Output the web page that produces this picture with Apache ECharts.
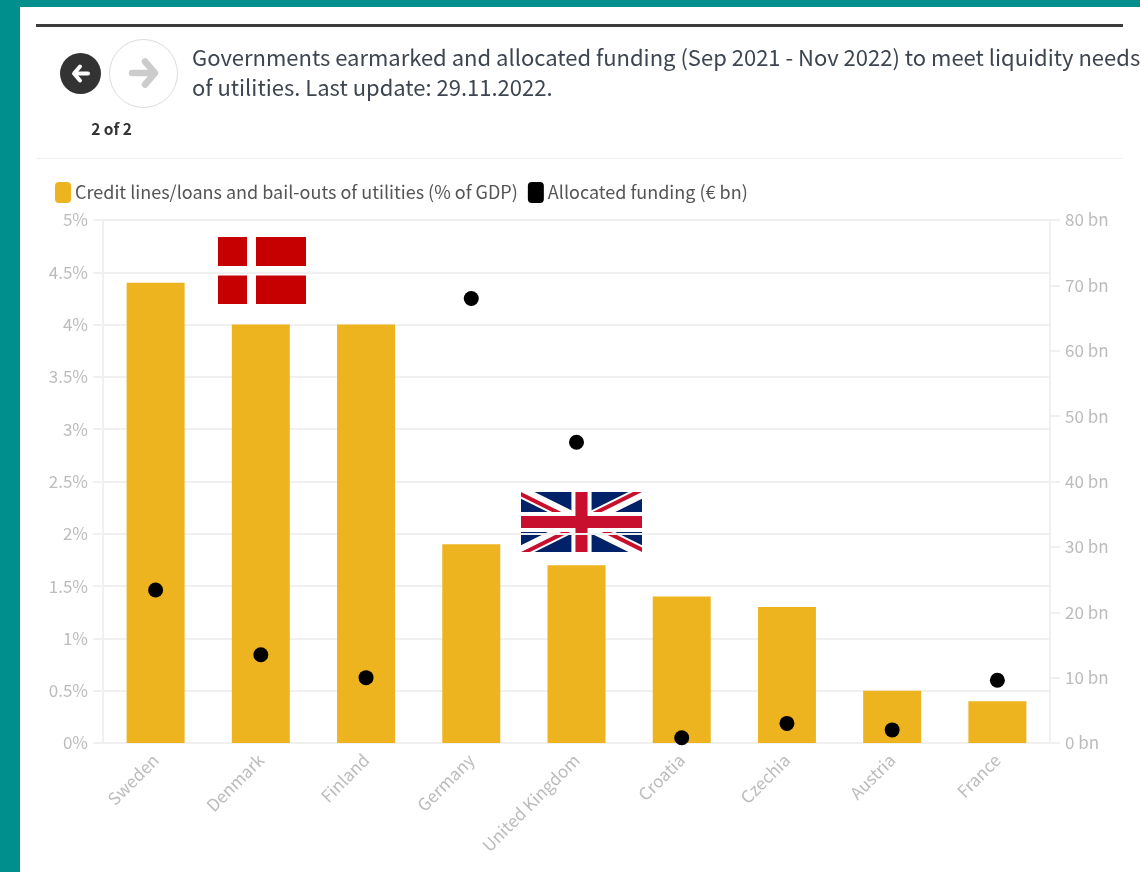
<!DOCTYPE html>
<html>
<head>
<meta charset="utf-8">
<style>
html,body{margin:0;padding:0;background:#fff}
#chart{width:1140px;height:872px}
</style>
<script src="https://cdn.jsdelivr.net/npm/echarts@6/dist/echarts.min.js"></script>
</head>
<body>
<div id="chart"></div>
<script>
const countries = ['Sweden','Denmark','Finland','Germany','United Kingdom','Croatia','Czechia','Austria','France'];
const creditShare = [4.4,4,4,1.9,1.7,1.4,1.3,0.5,0.4];
const allocatedBn = [23.4,13.5,10,68,46,0.8,3,2,9.6];
const shareSeriesName = 'Credit lines/loans and bail-outs of utilities (% of GDP)';
const fundingSeriesName = 'Allocated funding (€ bn)';
const headline = 'Governments earmarked and allocated funding (Sep 2021 - Nov 2022) to meet liquidity needs\nof utilities. Last update: 29.11.2022.';
const pager = '2 of 2';

const FONT = '"Noto Sans CJK SC","Noto Sans",sans-serif';
const GRID = '#f0f0f0';
const LABEL = '#bcbcbc';

// Flags are drawn as plain shapes in their own unit space, then scaled to size.
function flag(x, y, w, h, uw, uh, shapes) {
  return {
    type: 'group', x, y, z: 20, silent: true,
    children: shapes.map(s => ({
      type: 'polygon',
      shape: { points: s.p.map(q => [q[0] * w / uw, q[1] * h / uh]) },
      style: { fill: s.c }
    }))
  };
}
const box = (x0, y0, x1, y1) => [[x0,y0],[x1,y0],[x1,y1],[x0,y1]];

const denmark = flag(218, 237, 88, 67, 88, 67, [
  { c:'#c60000', p: box(0,0,88,67) },
  { c:'#ffffff', p: box(29,0,38,67) },
  { c:'#ffffff', p: box(0,29,88,38.5) }
]);

const BLUE = '#012169', RED = '#c8102e', W = '#ffffff';
const britain = flag(521, 492, 121, 60, 60, 30, [
  { c:BLUE, p: box(0,0,60,30) },
  { c:W, p: [[0,0],[6.7,0],[60,26.65],[60,30],[53.3,30],[0,3.35]] },
  { c:W, p: [[60,0],[60,3.35],[6.7,30],[0,30],[0,26.65],[53.3,0]] },
  { c:RED, p: [[0,0],[30,15],[30,17.24],[0,2.24]] },
  { c:RED, p: [[60,0],[30,15],[25.53,15],[55.53,0]] },
  { c:RED, p: [[0,30],[30,15],[34.47,15],[4.47,30]] },
  { c:RED, p: [[60,30],[30,15],[30,12.76],[60,27.76]] },
  { c:W, p: box(25,0,35,30) },
  { c:W, p: box(0,10,60,20) },
  { c:RED, p: box(27,0,33,30) },
  { c:RED, p: box(0,12,60,18) }
]);

const frame = [
  { type:'rect', z:0, shape:{x:0,y:0,width:1140,height:7}, style:{fill:'#008f8c'} },
  { type:'rect', z:0, shape:{x:0,y:0,width:20,height:872}, style:{fill:'#008f8c'} },
  { type:'rect', z:0, shape:{x:36,y:24,width:1087,height:3}, style:{fill:'#3c3c3c'} },
  { type:'rect', z:0, shape:{x:36,y:158,width:1087,height:1}, style:{fill:'#f1f1f1'} }
];

const navigation = [
  { type:'circle', shape:{cx:80.5,cy:73.5,r:20.5}, style:{fill:'#333333'} },
  { type:'polyline', shape:{points:[[80,66.5],[74,73.5],[80,80.5]]},
    style:{stroke:'#fff',lineWidth:4,fill:null,lineCap:'round',lineJoin:'round'} },
  { type:'line', shape:{x1:75,y1:73.5,x2:88,y2:73.5},
    style:{stroke:'#fff',lineWidth:4,lineCap:'round'} },
  { type:'circle', shape:{cx:143.5,cy:73.5,r:34}, style:{fill:'#fff',stroke:'#dcdcdc',lineWidth:1} },
  { type:'polyline', shape:{points:[[145,61.5],[155,73],[145,84.5]]},
    style:{stroke:'#cccccc',lineWidth:6.5,fill:null,lineCap:'round',lineJoin:'round'} },
  { type:'line', shape:{x1:132,y1:73,x2:153,y2:73},
    style:{stroke:'#cccccc',lineWidth:6.5,lineCap:'round'} },
  { type:'text', x:111.5, y:129, style:{text:pager,fill:'#333',font:'700 15.5px '+FONT,align:'center',verticalAlign:'middle'} }
];

const heading = {
  type:'text', x:192, y:43,
  style:{text:headline,fill:'#3d4650',font:'22px '+FONT,lineHeight:29.5,align:'left',verticalAlign:'top'}
};

const chart = echarts.init(document.getElementById('chart'), null, { renderer:'canvas' });
chart.setOption({
  animation:false,
  backgroundColor:'#ffffff',
  textStyle:{ fontFamily:FONT },
  graphic:{ elements:[...frame, ...navigation, heading, denmark, britain] },
  legend:{
    left:50, top:177, itemWidth:16, itemHeight:21, itemGap:10, icon:'roundRect',
    selectedMode:false,
    textStyle:{ fontSize:18, color:'#555', fontFamily:FONT, padding:[0,0,0,-1] },
    data:[shareSeriesName, fundingSeriesName]
  },
  grid:{ left:103, right:90, top:220, bottom:129, containLabel:false },
  xAxis:{
    type:'category', data:countries,
    axisLine:{ lineStyle:{ color:GRID, width:2 } },
    axisTick:{ alignWithLabel:true, length:10, lineStyle:{ color:GRID, width:2 } },
    axisLabel:{ rotate:45, color:LABEL, fontSize:17, margin:14, interval:0, fontFamily:FONT }
  },
  yAxis:[
    { type:'value', min:0, max:5, interval:0.5,
      axisLine:{ show:true, lineStyle:{ color:GRID, width:2 } },
      axisTick:{ show:true, length:10, lineStyle:{ color:GRID, width:2 } },
      splitLine:{ lineStyle:{ color:GRID, width:2 } },
      axisLabel:{ color:LABEL, fontSize:17, margin:15, formatter:v => v + '%', fontFamily:FONT } },
    { type:'value', min:0, max:80, interval:10, position:'right',
      axisLine:{ show:true, lineStyle:{ color:GRID, width:2 } },
      axisTick:{ show:true, length:10, lineStyle:{ color:GRID, width:2 } },
      splitLine:{ show:false },
      axisLabel:{ color:LABEL, fontSize:17, margin:15, formatter:v => v + ' bn', fontFamily:FONT } }
  ],
  series:[
    { name:shareSeriesName, type:'bar', data:creditShare, barWidth:58, yAxisIndex:0, z:2,
      itemStyle:{ color:'#eeb420' } },
    { name:fundingSeriesName, type:'scatter', data:allocatedBn, yAxisIndex:1, symbol:'circle', symbolSize:15, z:5,
      itemStyle:{ color:'#000000', opacity:1 } }
  ]
});
</script>
</body>
</html>
